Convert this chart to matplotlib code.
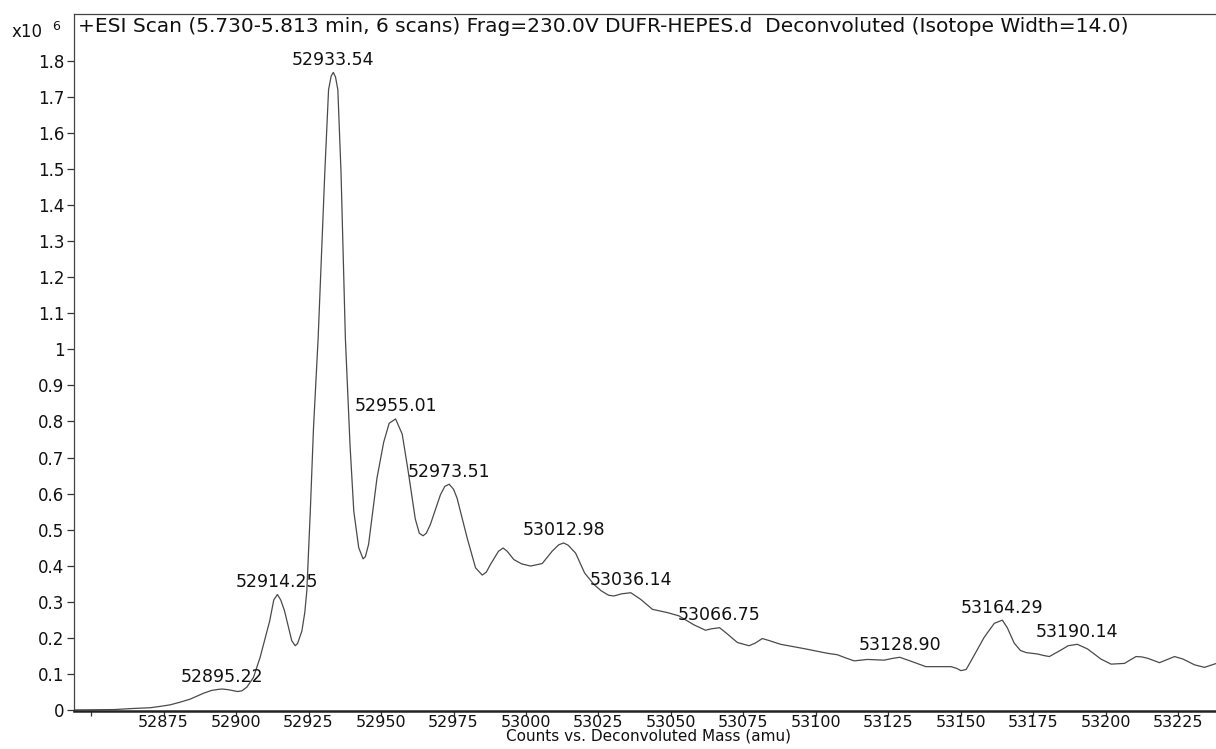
import matplotlib
matplotlib.use("Agg")
import matplotlib.pyplot as plt

# deconvoluted spectrum trace (mass in amu, counts in units of 1e6)
trace_mass = [
    52844.0, 52858.0, 52864.5, 52870.3, 52874.0, 52877.2, 52880.5, 52884.2,
    52888.7, 52891.5, 52893.9, 52895.22, 52897.4, 52900.5, 52902.0, 52903.7,
    52906.0, 52908.3, 52911.6, 52913.0, 52914.25, 52915.4, 52916.7, 52919.2,
    52920.4, 52921.2, 52922.7, 52923.7, 52924.4, 52925.6, 52926.7, 52928.3,
    52930.6, 52931.9, 52932.8, 52933.54, 52934.3, 52935.1, 52936.2, 52937.7,
    52938.4, 52939.3, 52940.6, 52942.3, 52943.8, 52944.6, 52945.7, 52948.6,
    52950.9, 52952.8, 52955.01, 52957.3, 52959.4, 52961.8, 52963.2, 52964.5,
    52965.6, 52967.0, 52970.5, 52972.0, 52973.51, 52975.0, 52976.2, 52979.7,
    52982.6, 52984.9, 52986.3, 52987.7, 52990.5, 52992.1, 52993.5, 52995.8,
    52998.5, 53001.6, 53005.6, 53009.0, 53011.3, 53012.98, 53014.5, 53017.1,
    53020.2, 53023.4, 53026.0, 53028.5, 53030.3, 53033.0, 53036.14, 53039.5,
    53043.6, 53048.7, 53052.7, 53057.9, 53061.9, 53064.0, 53066.75, 53068.8,
    53072.9, 53076.9, 53079.0, 53081.5, 53084.0, 53087.8, 53095.9, 53104.0,
    53107.4, 53110.0, 53113.2, 53117.8, 53123.5, 53126.5, 53128.90, 53132.8,
    53137.9, 53146.6, 53148.6, 53150.0, 53151.8, 53153.5, 53158.0, 53161.5,
    53164.29, 53166.0, 53168.4, 53170.5, 53172.5, 53176.5, 53178.5, 53180.5,
    53184.5, 53187.0, 53190.14, 53193.7, 53198.3, 53201.8, 53206.4, 53210.4,
    53212.4, 53214.5, 53218.5, 53223.7, 53226.6, 53230.6, 53234.0, 53238.1,
    53241.0,
]
trace_counts = [
    0.000, 0.001, 0.004, 0.006, 0.010, 0.014, 0.021, 0.030,
    0.046, 0.054, 0.057, 0.058, 0.056, 0.051, 0.053, 0.063,
    0.090, 0.146, 0.247, 0.305, 0.320, 0.305, 0.275, 0.192,
    0.178, 0.184, 0.219, 0.270, 0.330, 0.551, 0.781, 1.030,
    1.490, 1.720, 1.758, 1.768, 1.755, 1.720, 1.490, 1.030,
    0.900, 0.735, 0.551, 0.450, 0.419, 0.425, 0.459, 0.643,
    0.742, 0.795, 0.807, 0.765, 0.660, 0.530, 0.490, 0.483,
    0.490, 0.514, 0.597, 0.620, 0.626, 0.612, 0.588, 0.477,
    0.394, 0.374, 0.382, 0.403, 0.440, 0.449, 0.440, 0.417,
    0.405, 0.399, 0.406, 0.440, 0.458, 0.463, 0.457, 0.435,
    0.380, 0.348, 0.330, 0.318, 0.316, 0.322, 0.325, 0.307,
    0.279, 0.270, 0.261, 0.236, 0.221, 0.225, 0.228, 0.215,
    0.187, 0.178, 0.185, 0.198, 0.192, 0.182, 0.170, 0.157,
    0.153, 0.145, 0.136, 0.140, 0.138, 0.143, 0.146, 0.135,
    0.120, 0.120, 0.115, 0.109, 0.112, 0.136, 0.201, 0.240,
    0.249, 0.228, 0.185, 0.165, 0.159, 0.155, 0.151, 0.148,
    0.166, 0.178, 0.182, 0.169, 0.141, 0.127, 0.129, 0.148,
    0.147, 0.143, 0.131, 0.148, 0.141, 0.125, 0.118, 0.129,
    0.136,
]

# labelled peaks
peak_mass = [52895.22, 52914.25, 52933.54, 52955.01, 52973.51, 53012.98,
             53036.14, 53066.75, 53128.90, 53164.29, 53190.14]
peak_counts = [0.058, 0.320, 1.768, 0.807, 0.626, 0.463,
               0.325, 0.228, 0.146, 0.249, 0.182]

x_ticks = list(range(52850, 53226, 25))
y_ticks = [i / 10 for i in range(19)]

header = ("+ESI Scan (5.730-5.813 min, 6 scans) Frag=230.0V DUFR-HEPES.d  "
          "Deconvoluted (Isotope Width=14.0)")

plt.rcParams["font.family"] = "DejaVu Sans"

fig = plt.figure(figsize=(12.16, 7.49), dpi=100)
ax = fig.add_axes([74 / 1216, 38 / 749, 1.006 - 74 / 1216, 1 - 52 / 749])

ax.plot(trace_mass, trace_counts, color="#4a4a4a", lw=0.9)

for m, c in zip(peak_mass, peak_counts):
    ax.annotate(f"{m:.2f}", (m, c), xytext=(0, 2.5), textcoords="offset points",
                ha="center", va="bottom", fontsize=12.5, color="#111111")

ax.set_xlim(52844.1, 53240.5)
ax.set_ylim(-0.003, 1.930)

ax.set_xticks(x_ticks)
ax.set_xticklabels([""] + [str(t) for t in x_ticks[1:]])
ax.set_yticks(y_ticks)
ax.set_yticklabels([f"{t:g}" for t in y_ticks])
ax.tick_params(axis="both", direction="out", length=5, width=0.9,
               colors="#333333", labelcolor="#111111", pad=2)
ax.tick_params(axis="x", labelsize=11.5, length=3.5, pad=-0.5)
ax.tick_params(axis="y", labelsize=12)

for side in ["top", "left", "right"]:
    ax.spines[side].set_linewidth(0.9)
    ax.spines[side].set_color("#444444")
ax.spines["bottom"].set_linewidth(1.8)
ax.spines["bottom"].set_color("#222222")

ax.set_xlabel("Counts vs. Deconvoluted Mass (amu)", fontsize=11,
              color="#111111", labelpad=-1)

fig.text(78 / 1216, 1 - 27 / 749, header, fontsize=14.5, va="center",
         ha="left", color="#111111")
fig.text(12 / 1216, 1 - 32 / 749, "x10", fontsize=12, va="center",
         ha="left", color="#111111")
fig.text(52 / 1216, 1 - 27 / 749, "6", fontsize=9, va="center",
         ha="left", color="#111111")

fig.savefig("out.png", dpi=100)
